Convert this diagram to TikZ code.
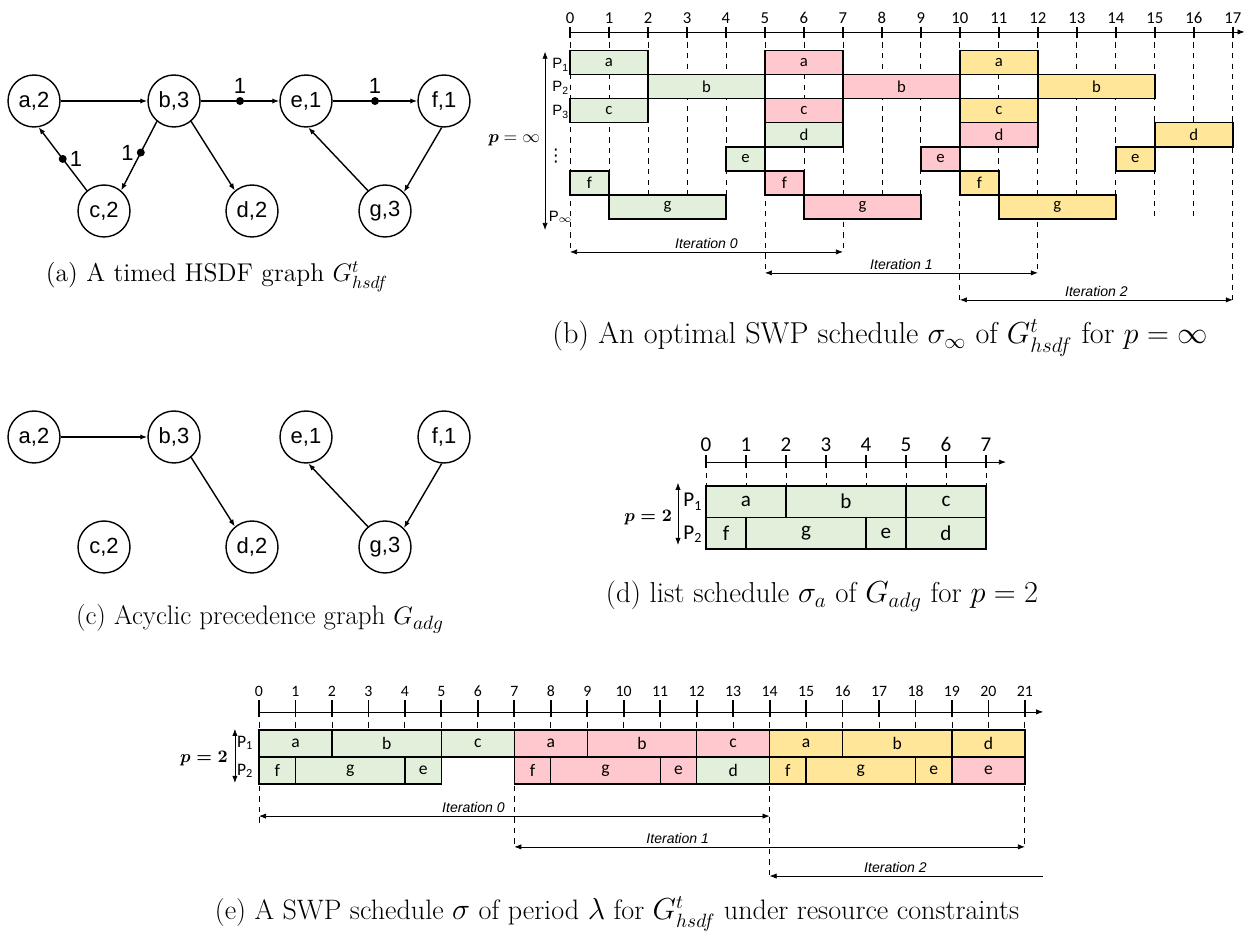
\documentclass[tikz,border=0pt]{standalone}
\usepackage{amsmath}
\usepackage{fontspec}
\setsansfont{Liberation Sans}
\newfontfamily\calfont{Carlito}
\newfontfamily\symfont{DejaVu Sans}
\usetikzlibrary{arrows.meta}
\definecolor{itzero}{HTML}{E2EFDA}
\definecolor{itone}{HTML}{FFC7CE}
\definecolor{ittwo}{HTML}{FFE699}
\begin{document}
\begin{tikzpicture}[x=0.02cm,y=-0.02cm,>={Latex[length=4pt,width=3pt]},
  actor/.style={circle,draw,line width=0.8pt,minimum size=1.04cm,inner sep=0pt,font=\sffamily\fontsize{12.5}{12.5}\selectfont},
  token/.style={circle,fill,inner sep=0pt,minimum size=0.16cm},
  tnum/.style={font=\sffamily\fontsize{12.5}{12.5}\selectfont,inner sep=1pt},
  job/.style={draw,line width=0.8pt},
  subcap/.style={font=\fontsize{#1}{#1}\selectfont},
  iter/.style={font=\sffamily\itshape\fontsize{8}{8}\selectfont,inner sep=1.5pt},
  guide/.style={dashed,line width=0.5pt},
  tickmark/.style={line width=1pt}]
\useasboundingbox (0,0) rectangle (1252,945);

% (a) timed HSDF graph
\node[actor] (a) at (34,101) {a,2};
\node[actor] (b) at (174,101) {b,3};
\node[actor] (e) at (306,101) {e,1};
\node[actor] (f) at (444,101) {f,1};
\node[actor] (c) at (104,211) {c,2};
\node[actor] (d) at (252,211) {d,2};
\node[actor] (g) at (385,211) {g,3};
\draw[->,thick] (a)--(b);
\draw[->,thick] (b)--node[token,label={[tnum]above:1}](tbe){}(e);
\draw[->,thick] (e)--node[token,label={[tnum]above:1}](tef){}(f);
\draw[->,thick] (c.130)--node[token,label={[tnum]right:1}](tca){}(a.-80);
\draw[->,thick] (b.230)--node[token,pos=0.45,label={[tnum]left:1}](tbc){}(c.50);
\draw[->,thick] (b.-50)--(d.130);
\draw[->,thick] (f.-95)--(g.45);
\draw[->,thick] (g.130)--(e.-85);
\node[subcap=14.6] (capa) at (217,277) {(a) A timed HSDF graph $G^t_{hsdf}$};

% (c) acyclic precedence graph
\node[actor] (a2) at (34,437) {a,2};
\node[actor] (b2) at (174,437) {b,3};
\node[actor] (e2) at (306,437) {e,1};
\node[actor] (f2) at (444,437) {f,1};
\node[actor] (c2) at (104,547) {c,2};
\node[actor] (d2) at (252,547) {d,2};
\node[actor] (g2) at (385,547) {g,3};
\draw[->,thick] (a2)--(b2);
\draw[->,thick] (b2.-50)--(d2.130);
\draw[->,thick] (f2.-95)--(g2.45);
\draw[->,thick] (g2.130)--(e2.-85);
\node[subcap=15.3] (capc) at (260,619) {(c) Acyclic precedence graph $G_{adg}$};

% (b) schedule for p = infinity
\begin{scope}[shift={(570,50.5)},x=0.78cm,y=-0.482cm,
  jlab/.style={font=\calfont\fontsize{9.5}{9.5}\selectfont},
  plbl/.style={font=\sffamily\fontsize{8.5}{8.5}\selectfont,inner sep=0pt}]
\foreach \t/\len in {0/8.36,1/7,2/7,3/7,4/7,5/9.23,6/7,7/8.36,8/7,9/7,10/10.35,11/7,12/9.23,13/7,14/7,15/7,16/7,17/10.35}
  \draw[guide] (\t,-0.77)--(\t,\len);
\draw[->] (0,-0.77)--(17.3,-0.77);
\foreach \t in {0,...,17}
  \draw[tickmark] (\t,-0.52)--(\t,-0.98) node[above,jlab,inner sep=1.5pt] (nb\t) {\t};
\foreach \r/\s/\e/\l/\c in {1/0/2/a/itzero,2/2/5/b/itzero,3/0/2/c/itzero,4/5/7/d/itzero,5/4/5/e/itzero,6/0/1/f/itzero,7/1/4/g/itzero,
  1/5/7/a/itone,2/7/10/b/itone,3/5/7/c/itone,4/10/12/d/itone,5/9/10/e/itone,6/5/6/f/itone,7/6/9/g/itone,
  1/10/12/a/ittwo,2/12/15/b/ittwo,3/10/12/c/ittwo,4/15/17/d/ittwo,5/14/15/e/ittwo,6/10/11/f/ittwo,7/11/14/g/ittwo}
  \draw[job,fill=\c] (\s,\r-1) rectangle node[jlab]{\l} (\e,\r);
\draw[<->] (-0.64,0.05)--(-0.64,7.45);
\node[left,inner sep=1pt] (pinf) at (-0.72,3.72) {$\boldsymbol{p}=\infty$};
\node[plbl] (pb1) at (-0.24,0.6) {P\textsubscript{1}};
\node[plbl] (pb2) at (-0.24,1.56) {P\textsubscript{2}};
\node[plbl] (pb3) at (-0.24,2.55) {P\textsubscript{3}};
\node[inner sep=0pt,font=\symfont\fontsize{10}{10}\selectfont] (pbdots) at (-0.36,4.4) {⋮};
\node[plbl] (pbinf) at (-0.24,6.9) {P\textsubscript{$\infty$}};
\draw[<->] (0,8.36)--node[above,iter](itb0){Iteration 0}(7,8.36);
\draw[<->] (5,9.23)--node[above,iter](itb1){Iteration 1}(12,9.23);
\draw[<->] (10,10.35)--node[above,iter](itb2){Iteration 2}(17,10.35);
\end{scope}
\node[subcap=17.2] (capb) at (880,338) {(b) An optimal SWP schedule $\sigma_\infty$ of $G^t_{hsdf}$ for $p=\infty$};

% (d) list schedule for p = 2
\begin{scope}[shift={(706,486)},x=0.8cm,y=-0.63cm,
  jlab/.style={font=\calfont\fontsize{12}{12}\selectfont}]
\foreach \t in {0,...,7}
  \draw[guide] (\t,-0.76)--(\t,0);
\draw[->] (0,-0.76)--(7.5,-0.76);
\foreach \t in {0,...,7}
  \draw[tickmark] (\t,-0.57)--(\t,-0.98) node[above,jlab,inner sep=1.5pt] (nd\t) {\t};
\foreach \r/\s/\e/\l in {1/0/2/a,1/2/5/b,1/5/7/c,2/0/1/f,2/1/4/g,2/4/5/e,2/5/7/d}
  \draw[job,fill=itzero] (\s,\r-1) rectangle node[jlab]{\l} (\e,\r);
\draw[<->] (-0.7,-0.1)--(-0.7,1.87);
\node[left,inner sep=1pt] (ptwod) at (-0.8,1.0) {$\boldsymbol{p=2}$};
\node[jlab,inner sep=0pt] (pd1) at (-0.33,0.5) {P\textsubscript{1}};
\node[jlab,inner sep=0pt] (pd2) at (-0.33,1.52) {P\textsubscript{2}};
\end{scope}
\node[subcap=16.4] (capd) at (822,596) {(d) list schedule $\sigma_a$ of $G_{adg}$ for $p=2$};

% (e) schedule under resource constraints
\begin{scope}[shift={(259,730)},x=0.7296cm,y=-0.54cm,
  jlab/.style={font=\calfont\fontsize{10}{10}\selectfont}]
\foreach \t/\len in {0/3.52,1/0,2/0,3/0,4/0,5/0,6/0,7/4.37,8/0,9/0,10/0,11/0,12/0,13/0,14/5.44,15/0,16/0,17/0,18/0,19/0,20/0,21/4.37}
  \draw[guide] (\t,-0.67)--(\t,\len);
\draw[->] (0,-0.67)--(21.5,-0.67);
\foreach \t in {0,...,21}
  \draw[tickmark] (\t,-0.5)--(\t,-1.1) node[above,font=\calfont\fontsize{9}{9}\selectfont,inner sep=1.5pt] (ne\t) {\t};
\foreach \r/\s/\e/\l/\c in {1/0/2/a/itzero,1/2/5/b/itzero,1/5/7/c/itzero,1/7/9/a/itone,1/9/12/b/itone,1/12/14/c/itone,1/14/16/a/ittwo,1/16/19/b/ittwo,1/19/21/d/ittwo,
  2/0/1/f/itzero,2/1/4/g/itzero,2/4/5/e/itzero,2/7/8/f/itone,2/8/11/g/itone,2/11/12/e/itone,2/12/14/d/itzero,2/14/15/f/ittwo,2/15/18/g/ittwo,2/18/19/e/ittwo,2/19/21/e/itone}
  \draw[job,fill=\c] (\s,\r-1) rectangle node[jlab]{\l} (\e,\r);
\draw[<->] (-0.66,-0.04)--(-0.66,1.96);
\node[left,inner sep=1pt] (ptwoe) at (-0.8,1.04) {$\boldsymbol{p=2}$};
\node[jlab,inner sep=0pt] (pe1) at (-0.38,0.48) {P\textsubscript{1}};
\node[jlab,inner sep=0pt] (pe2) at (-0.38,1.52) {P\textsubscript{2}};
\draw[<->] (0,3.19)--node[above,iter,pos=0.42](ite0){Iteration 0}(14,3.19);
\draw[<->] (7,4.33)--node[above,iter,pos=0.32](ite1){Iteration 1}(21,4.33);
\draw[<-] (14,5.41)--node[above,iter,pos=0.46](ite2){Iteration 2}(21.5,5.41);
\end{scope}
\node[subcap=16] (cape) at (617,914) {(e) A SWP schedule $\sigma$ of period $\lambda$ for $G^t_{hsdf}$ under resource constraints};
\end{tikzpicture}
\end{document}
